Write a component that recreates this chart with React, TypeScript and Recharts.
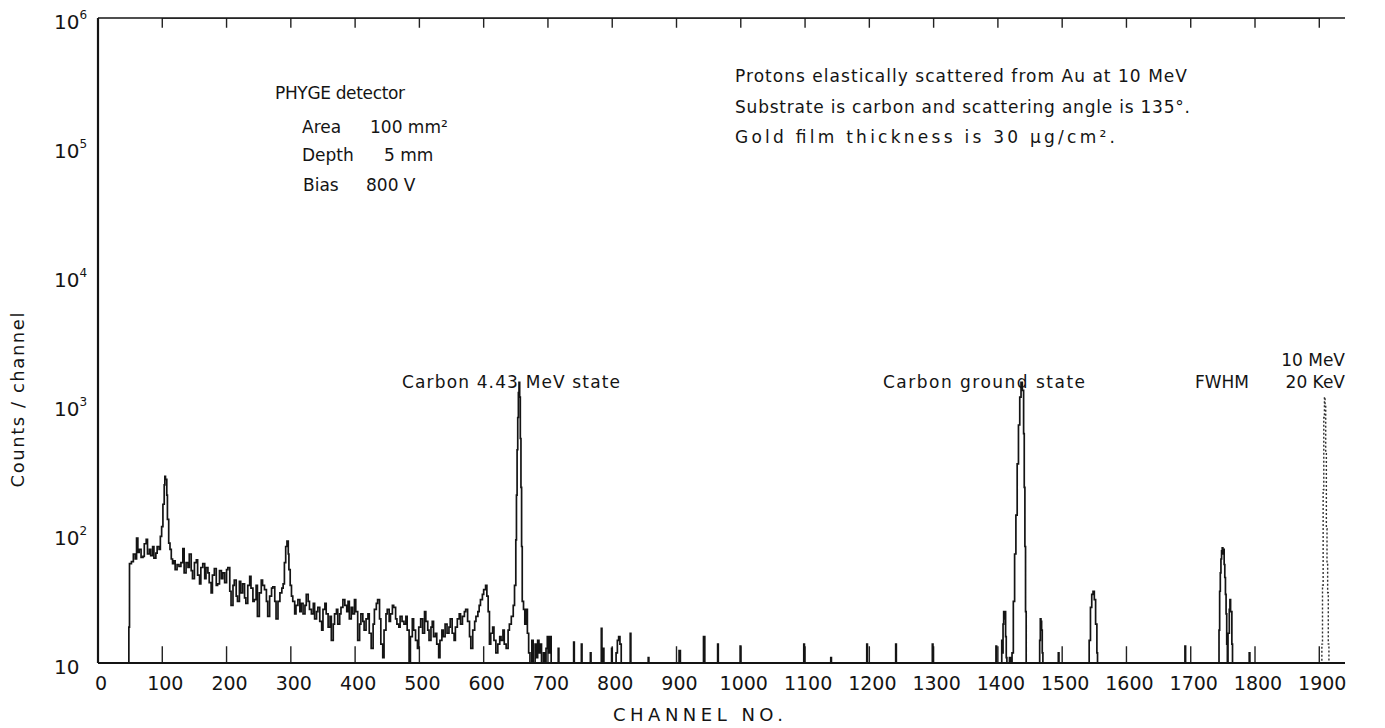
import { Line, LineChart, XAxis, YAxis } from "recharts";

type Pt = [number, number];

// [channel, counts per channel]; 10 is the floor of the plot
const continuum: Pt[] = [
  [0, 10], [47, 10], [48, 19], [49, 59], [52, 61], [55, 70], [58, 64], [60, 93], [62, 72], [64, 76],
  [67, 66], [70, 67], [72, 84], [75, 91], [77, 70], [80, 76], [82, 68], [85, 80], [87, 65], [90, 71],
  [92, 80], [95, 76], [97, 96], [99, 114], [101, 170], [103, 240], [104, 280], [105, 265], [107, 200],
  [108, 130], [110, 85], [112, 76], [114, 64], [116, 59], [118, 62], [120, 53], [123, 58], [126, 56],
  [129, 60], [132, 77], [134, 50], [137, 60], [140, 55], [142, 70], [145, 52], [147, 45], [150, 60],
  [153, 63], [155, 48], [158, 41], [160, 55], [163, 59], [166, 45], [168, 55], [171, 50], [173, 42],
  [176, 35], [178, 48], [181, 54], [184, 40], [186, 41], [189, 52], [192, 45], [194, 50], [197, 42],
  [200, 53], [202, 55], [205, 36], [207, 28], [210, 40], [212, 44], [215, 33], [217, 30], [220, 43],
  [222, 35], [225, 41], [228, 32], [230, 29], [233, 40], [236, 47], [238, 38], [241, 30], [243, 31],
  [246, 40], [248, 23], [251, 35], [254, 44], [256, 40], [259, 37], [262, 30], [264, 23], [267, 33],
  [270, 38], [272, 39], [275, 30], [277, 22], [280, 30], [283, 35], [286, 38], [288, 41], [290, 60],
  [292, 80], [294, 88], [296, 70], [297, 53], [299, 40], [301, 33], [303, 30], [306, 24], [308, 28],
  [311, 31], [314, 25], [316, 29], [319, 24], [322, 28], [324, 34], [327, 30], [329, 26], [332, 24],
  [335, 29], [337, 22], [340, 25], [342, 27], [345, 21], [348, 18], [350, 26], [353, 29], [355, 24],
  [358, 19], [361, 23], [363, 15], [366, 20], [368, 24], [371, 26], [373, 20], [376, 24], [378, 27],
  [381, 31], [384, 28], [387, 25], [389, 30], [391, 22], [394, 27], [396, 24], [399, 31], [401, 25],
  [404, 15], [407, 20], [409, 24], [412, 21], [414, 18], [417, 22], [420, 24], [422, 17], [425, 13],
  [428, 20], [430, 26], [433, 29], [435, 31], [438, 22], [440, 14], [443, 11], [445, 18], [448, 24],
  [450, 26], [453, 21], [455, 24], [458, 28], [460, 27], [463, 22], [465, 20], [468, 19], [470, 23],
  [473, 21], [476, 20], [479, 23], [481, 18], [484, 10], [486, 16], [489, 22], [491, 18], [494, 15],
  [497, 13], [499, 19], [502, 22], [505, 17], [508, 25], [510, 21], [513, 18], [515, 15], [518, 19],
  [520, 21], [522, 16], [525, 17], [527, 14], [530, 11], [532, 15], [535, 18], [537, 16], [540, 20],
  [543, 17], [546, 19], [548, 22], [551, 17], [554, 15], [556, 19], [559, 22], [562, 24], [564, 20],
  [567, 23], [570, 25], [572, 26], [575, 21], [578, 16], [580, 13], [583, 18], [586, 21], [588, 23],
  [591, 25], [593, 28], [595, 31], [598, 34], [600, 37], [603, 40], [605, 33], [607, 25], [609, 14],
  [611, 17], [614, 19], [616, 15], [619, 12], [622, 14], [625, 16], [627, 15], [630, 18], [632, 14],
  [635, 13], [638, 18], [640, 20], [643, 23], [646, 28], [648, 40],
];

// 4.43 MeV state of carbon
const gammaPeak: Pt[] = [
  [650, 90], [651, 200], [652, 450], [653, 800], [654, 1250], [655, 1500], [656, 1150], [657, 550],
  [658, 230], [659, 80], [660, 30], [662, 26], [664, 20], [666, 26], [668, 17], [670, 12], [672, 10],
  [675, 15], [677, 10], [680, 14], [682, 11], [684, 15], [686, 12], [688, 14], [690, 10], [693, 12],
  [695, 10], [697, 13], [699, 16], [701, 12], [703, 16], [705, 10],
];

// isolated counts between the peaks
const strayLines: Pt[] = [
  [716, 13], [717, 10], [740, 14.5], [741, 10], [752, 14], [753, 10], [766, 12], [767, 10],
  [783, 18.6], [784, 10], [786, 13], [787, 10], [799, 13], [800, 10], [806, 12], [808, 15],
  [810, 16], [812, 14], [814, 10], [828, 17], [829, 10], [856, 11], [857, 10], [904, 12.5],
  [906, 10], [942, 16], [944, 10], [964, 14], [965, 10], [999, 13.5], [1000, 10], [1098, 14],
  [1099, 10], [1140, 11], [1141, 10], [1196, 14], [1197, 10], [1241, 14], [1242, 10], [1298, 14],
  [1299, 10],
];

// carbon ground state
const groundPeak: Pt[] = [
  [1396, 10], [1397, 13.5], [1398, 10], [1405, 10], [1406, 15], [1407, 12], [1408, 20], [1409, 25],
  [1410, 22], [1411, 25], [1412, 16], [1413, 11], [1414, 10], [1418, 11], [1420, 10], [1422, 12],
  [1424, 30], [1426, 70], [1428, 140], [1430, 350], [1432, 700], [1434, 1150], [1436, 1500],
  [1438, 1300], [1440, 600], [1441, 230], [1442, 80], [1443, 25], [1444, 10], [1464, 10],
  [1465, 15], [1466, 22], [1467, 21], [1468, 18], [1469, 12], [1470, 10], [1493, 10], [1494, 12],
  [1495, 10],
];

const sidePeak: Pt[] = [
  [1540, 10], [1542, 15], [1544, 27], [1546, 34], [1548, 36], [1550, 31], [1552, 20], [1554, 12],
  [1555, 10], [1690, 10], [1691, 13.5], [1692, 10],
];

const doublet: Pt[] = [
  [1742, 10], [1744, 18], [1745, 36], [1746, 50], [1747, 64], [1748, 74], [1749, 78], [1750, 70],
  [1751, 76], [1752, 58], [1753, 46], [1754, 34], [1755, 24], [1756, 14], [1757, 10], [1758, 17],
  [1760, 26], [1761, 31], [1762, 25], [1764, 14], [1765, 10], [1790, 10], [1791, 12], [1792, 10],
  [1900, 10],
];

// 10 MeV elastic line off gold
const elasticPeak: Pt[] = [
  [1895, 10], [1903, 10], [1904, 14], [1905, 40], [1906, 220], [1907, 800], [1908, 1150],
  [1909, 1000], [1910, 420], [1911, 110], [1912, 60], [1913, 35], [1914, 14], [1915, 10], [1940, 10],
];

const channelTicks = [0, 100, 200, 300, 400, 500, 600, 700, 800, 900, 1000, 1100, 1200, 1300, 1400, 1500, 1600, 1700, 1800, 1900];
const markTicks = channelTicks.slice(1);
const decadeTicks = [10, 100, 1000, 10000, 100000, 1000000];

// inward tick marks run from the frame edge to these count levels
const FLOOR = 10;
const CEILING = 1000000;
const BOTTOM_MARK = 13.5;
const TOP_MARK = 840000;

const toRows = (pts: Pt[]) => pts.map(([channel, counts]) => ({ channel, counts }));

const spectrum = toRows(
  [...continuum, ...gammaPeak, ...strayLines, ...groundPeak, ...sidePeak, ...doublet].sort((a, b) => a[0] - b[0])
);
const elastic = toRows(elasticPeak);

// tick marks as out-and-back strokes along the frame, so they go through the chart's own scales
const markPath = (edge: number, tip: number) =>
  markTicks.flatMap((t) => [
    { channel: t, counts: edge },
    { channel: t, counts: tip },
    { channel: t, counts: edge },
  ]);
const bottomMarks = markPath(FLOOR, BOTTOM_MARK);
const topMarks = markPath(CEILING, TOP_MARK);

const INK = "#141414";
const FONT = "'DejaVu Sans', sans-serif";

function ChannelTick({ x, y, payload }: any) {
  return (
    <text x={x + 3} y={y + 27} textAnchor="middle" fontSize={19} fontFamily={FONT} fill={INK}>
      {payload.value}
    </text>
  );
}

function DecadeTick({ x, y, payload }: any) {
  const exp = Math.round(Math.log10(payload.value));
  return (
    <text x={x - 44} y={y + 11} fontSize={20} fontFamily={FONT} fill={INK}>
      10
      {exp > 1 && (
        <tspan dy={-10} fontSize={12}>
          {exp}
        </tspan>
      )}
    </text>
  );
}

const NoLabel = () => <g />;

type Note = { text: string; x: number; y: number; len?: number; anchor?: "start" | "end" };

const notes: Note[] = [
  { text: "PHYGE  detector", x: 275, y: 99, len: 130 },
  { text: "Area", x: 302, y: 133 },
  { text: "100 mm²", x: 370, y: 133 },
  { text: "Depth", x: 302, y: 161 },
  { text: "5 mm", x: 384, y: 161 },
  { text: "Bias", x: 303, y: 191 },
  { text: "800 V", x: 366, y: 191 },
  { text: "Protons  elastically  scattered  from  Au  at  10 MeV", x: 735, y: 82, len: 452 },
  { text: "Substrate  is  carbon  and  scattering  angle  is  135°.", x: 735, y: 113, len: 455 },
  { text: "Gold   film   thickness   is   30 μg/cm².", x: 735, y: 143, len: 380 },
  { text: "Carbon  4.43  MeV  state", x: 402, y: 388, len: 218 },
  { text: "Carbon  ground  state", x: 883, y: 388, len: 202 },
  { text: "10 MeV", x: 1345, y: 366, anchor: "end" },
  { text: "FWHM", x: 1195, y: 388 },
  { text: "20 KeV", x: 1345, y: 388, anchor: "end" },
];

export default function App() {
  return (
    <div style={{ position: "absolute", left: 0, top: 0, width: 1385, height: 728, background: "#fff" }}>
      <LineChart width={1385} height={728} margin={{ top: 17, right: 40, bottom: 64, left: 97 }}>
        <XAxis
          xAxisId="x"
          type="number"
          dataKey="channel"
          domain={[0, 1940]}
          allowDataOverflow
          ticks={channelTicks}
          interval={0}
          height={1}
          tickSize={0}
          tickMargin={0}
          tickLine={false}
          axisLine={{ stroke: INK, strokeWidth: 2.2 }}
          tick={<ChannelTick />}
        />
        <XAxis
          xAxisId="top"
          orientation="top"
          type="number"
          dataKey="channel"
          domain={[0, 1940]}
          allowDataOverflow
          ticks={markTicks}
          interval={0}
          height={1}
          tickLine={false}
          tick={<NoLabel />}
          axisLine={{ stroke: INK, strokeWidth: 1.6 }}
        />
        <YAxis
          yAxisId="y"
          type="number"
          scale="log"
          domain={[FLOOR, CEILING]}
          allowDataOverflow
          ticks={decadeTicks}
          interval={0}
          width={1}
          tickSize={0}
          tickMargin={0}
          tickLine={false}
          axisLine={{ stroke: INK, strokeWidth: 2.2 }}
          tick={<DecadeTick />}
        />
        <Line
          xAxisId="x"
          yAxisId="y"
          data={bottomMarks}
          dataKey="counts"
          type="linear"
          stroke="#222"
          strokeWidth={1.4}
          dot={false}
          isAnimationActive={false}
        />
        <Line
          xAxisId="x"
          yAxisId="y"
          data={topMarks}
          dataKey="counts"
          type="linear"
          stroke="#222"
          strokeWidth={1.4}
          dot={false}
          isAnimationActive={false}
        />
        <Line
          xAxisId="x"
          yAxisId="y"
          data={spectrum}
          dataKey="counts"
          type="stepAfter"
          stroke={INK}
          strokeWidth={1.7}
          dot={false}
          isAnimationActive={false}
        />
        <Line
          xAxisId="top"
          yAxisId="y"
          data={elastic}
          dataKey="counts"
          type="stepAfter"
          stroke="#333"
          strokeWidth={1.4}
          strokeDasharray="2 2"
          dot={false}
          isAnimationActive={false}
        />
      </LineChart>
      <svg width={1385} height={728} style={{ position: "absolute", left: 0, top: 0, pointerEvents: "none" }}>
        <g fontFamily={FONT} fill={INK} fontSize={17}>
          {notes.map((n) => (
            <text
              key={n.text}
              x={n.x}
              y={n.y}
              textAnchor={n.anchor ?? "start"}
              textLength={n.len}
              lengthAdjust={n.len ? "spacing" : undefined}
            >
              {n.text}
            </text>
          ))}
          <text
            x={24}
            y={400}
            fontSize={18}
            textAnchor="middle"
            transform="rotate(-90 24 400)"
            textLength={175}
            lengthAdjust="spacing"
          >
            Counts / channel
          </text>
          <text x={613} y={721} fontSize={18} textLength={170} lengthAdjust="spacing">
            CHANNEL    NO.
          </text>
        </g>
      </svg>
    </div>
  );
}
